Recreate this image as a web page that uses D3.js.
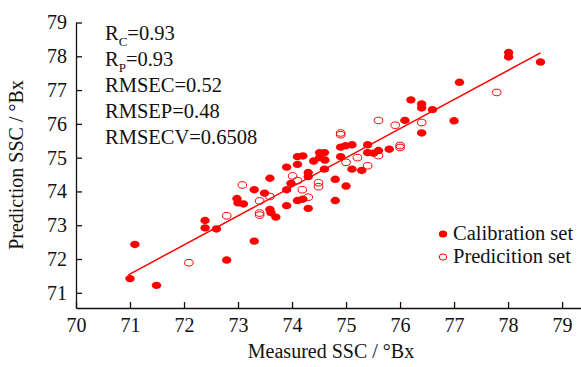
<!DOCTYPE html>
<html>
<head>
<meta charset="utf-8">
<script src="https://cdn.jsdelivr.net/npm/d3@7"></script>
<style>
  body { margin: 0; background: #fff; }
  svg { display: block; }
  text { font-family: "Liberation Serif", "Times New Roman", serif; fill: #111; }
</style>
</head>
<body>
<svg id="chart"></svg>
<script>
// calibration set: measured SSC vs predicted SSC
const calX = [71.00, 71.09, 71.49, 72.39, 72.39, 72.60, 72.79, 72.98, 73.00, 73.10,
  73.30, 73.30, 73.49, 73.59, 73.59, 73.61, 73.70, 73.90, 73.90, 73.90,
  73.98, 74.10, 74.20, 74.10, 74.10, 74.20, 74.30, 74.30, 74.30, 74.40,
  74.51, 74.61, 74.51, 74.60, 74.90, 74.90, 74.99, 75.11, 75.40, 75.40,
  75.51, 75.60, 75.80, 75.11, 75.29, 74.60, 74.80, 75.00, 74.80, 76.20,
  76.40, 76.40, 76.60, 76.09, 77.00, 76.40, 77.10, 78.01, 78.01, 78.60];
const calY = [71.42, 72.43, 71.22, 73.14, 72.92, 72.89, 71.97, 73.79, 73.66, 73.63,
  72.53, 74.05, 73.95, 74.39, 73.47, 73.37, 73.24, 74.05, 74.72, 73.58,
  74.24, 75.03, 75.05, 74.80, 73.73, 73.77, 74.56, 74.44, 73.50, 74.90,
  75.00, 74.93, 75.15, 75.15, 75.03, 75.31, 75.35, 75.38, 75.38, 75.15,
  75.13, 75.21, 75.25, 74.66, 74.62, 74.66, 74.36, 74.16, 73.73, 76.71,
  76.59, 76.47, 76.42, 76.10, 76.09, 75.73, 77.23, 78.11, 77.98, 77.83];

// prediction set
const preX = [72.09, 72.79, 73.08, 73.40, 73.40, 73.40, 73.59, 74.01, 74.10, 74.19,
  74.30, 74.49, 74.49, 75.00, 75.21, 75.40, 74.90, 74.90, 75.60, 75.91,
  76.00, 76.00, 75.60, 76.40, 77.79];
const preY = [71.89, 73.28, 74.19, 73.72, 73.36, 73.30, 73.85, 74.46, 74.32, 74.05,
  73.83, 74.26, 74.14, 74.86, 75.00, 74.76, 75.73, 75.68, 76.10, 75.96,
  75.36, 75.30, 75.06, 76.04, 76.93];

// fitted line end points
const fitX = [70.97, 78.60];
const fitY = [71.53, 78.10];

const xTicks = [70, 71, 72, 73, 74, 75, 76, 77, 78, 79];
const yTicks = [71, 72, 73, 74, 75, 76, 77, 78, 79];

const stats = [
  { name: 'R', sub: 'C', val: '=0.93' },
  { name: 'R', sub: 'P', val: '=0.93' },
  { name: 'RMSEC', sub: '', val: '=0.52' },
  { name: 'RMSEP', sub: '', val: '=0.48' },
  { name: 'RMSECV', sub: '', val: '=0.6508' }
];
const legendNames = ['Calibration set', 'Predicition set'];

const width = 581;
const height = 367;
const red = '#ff0000';
const serif = '"Liberation Serif", "Times New Roman", serif';

const svg = d3.select('#chart')
  .attr('width', width)
  .attr('height', height);

const x = d3.scaleLinear().domain([70, 79.35]).range([76, 581]);
const y = d3.scaleLinear().domain([70.55, 79]).range([308, 22.5]);

// axes, ticks pointing inward
const xAxis = d3.axisBottom(x).tickValues(xTicks).tickSize(-6).tickPadding(10).tickSizeOuter(0);
const yAxis = d3.axisLeft(y).tickValues(yTicks).tickSize(-6).tickPadding(9).tickSizeOuter(0);

const gx = svg.append('g')
  .attr('transform', `translate(0,${y.range()[0]})`)
  .call(xAxis);
const gy = svg.append('g')
  .attr('transform', `translate(${x.range()[0]},0)`)
  .call(yAxis);

[gx, gy].forEach((g) => {
  g.attr('font-family', null).attr('font-size', null);
  g.selectAll('path, line').attr('stroke', '#111').attr('stroke-width', 1.3);
  g.selectAll('text')
    .style('font-family', serif)
    .style('font-size', '20px')
    .attr('fill', '#111');
});

// axis titles
svg.append('text')
  .attr('x', 331)
  .attr('y', 358)
  .attr('text-anchor', 'middle')
  .attr('font-size', 20)
  .text('Measured SSC / °Bx');

svg.append('text')
  .attr('transform', 'translate(23,165) rotate(-90)')
  .attr('text-anchor', 'middle')
  .attr('font-size', 20)
  .text('Prediction SSC / °Bx');

// regression line
const line = d3.line()
  .x((d) => x(d[0]))
  .y((d) => y(d[1]));
svg.append('path')
  .datum(d3.zip(fitX, fitY))
  .attr('d', line)
  .attr('fill', 'none')
  .attr('stroke', red)
  .attr('stroke-width', 1.5);

// points
svg.append('g').selectAll('ellipse')
  .data(d3.zip(calX, calY))
  .join('ellipse')
  .attr('cx', (d) => x(d[0]))
  .attr('cy', (d) => y(d[1]))
  .attr('rx', 4.7)
  .attr('ry', 3.7)
  .attr('fill', red);

svg.append('g').selectAll('ellipse')
  .data(d3.zip(preX, preY))
  .join('ellipse')
  .attr('cx', (d) => x(d[0]))
  .attr('cy', (d) => y(d[1]))
  .attr('rx', 4.3)
  .attr('ry', 3.3)
  .attr('fill', 'none')
  .attr('stroke', red)
  .attr('stroke-width', 1);

// statistics text
const st = svg.append('g').attr('font-size', 20.5);
stats.forEach((s, i) => {
  const t = st.append('text')
    .attr('x', 105)
    .attr('y', 39.5 + i * 26);
  t.append('tspan').text(s.name);
  if (s.sub) {
    t.append('tspan').attr('dy', 6).attr('font-size', 13).text(s.sub);
    t.append('tspan').attr('dy', -6).text(s.val);
  } else {
    t.append('tspan').text(s.val);
  }
});

// legend
const lg = svg.append('g').attr('transform', 'translate(443,234)');
legendNames.forEach((name, i) => {
  const row = lg.append('g').attr('transform', `translate(0,${i * 23})`);
  if (i === 0) {
    row.append('ellipse').attr('rx', 4.2).attr('ry', 3.5).attr('fill', red);
  } else {
    row.append('ellipse').attr('rx', 3.8).attr('ry', 3.1)
      .attr('fill', 'none').attr('stroke', red).attr('stroke-width', 1);
  }
  row.append('text')
    .attr('x', 10)
    .attr('y', 6)
    .attr('font-size', 20.5)
    .text(name);
});
</script>
</body>
</html>
